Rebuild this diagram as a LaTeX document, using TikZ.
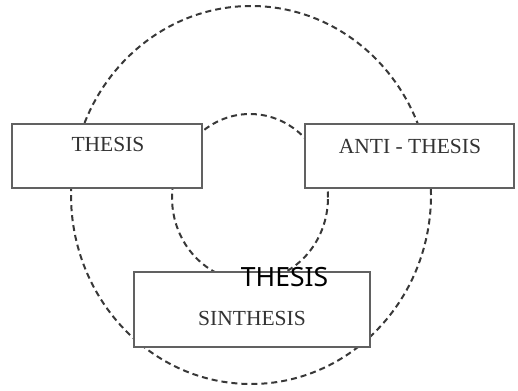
\documentclass[tikz,border=0pt]{standalone}
\usepackage{fontspec}
\setmainfont{Liberation Serif}
\newfontfamily\overlayfont{Noto Sans}
\usetikzlibrary{shapes.geometric}
\tikzset{
  ring/.style={ellipse, draw=black!78, line width=2pt, dash pattern=on 6pt off 4pt, inner sep=0pt},
  stagebox/.style={rectangle, draw=black!62, line width=2pt, fill=white, inner sep=0pt},
  stagetext/.style={anchor=base, text=black!80, font=\fontsize{21.5}{24}\selectfont, inner sep=0pt},
  overtext/.style={anchor=base, text=black, font=\overlayfont\fontsize{26.5}{30}\selectfont, inner sep=0pt}
}
\begin{document}
\begin{tikzpicture}[x=1pt,y=-1pt]
\useasboundingbox (0,0) rectangle (518,390);
\node[ring, minimum width=360pt, minimum height=378pt] (outer) at (251,195) {};
\node[ring, minimum width=156pt, minimum height=167pt] (inner) at (250,197.5) {};
\node[stagebox, minimum width=190pt, minimum height=64pt] (thesisbox) at (107,156) {};
\node[stagebox, minimum width=209pt, minimum height=64pt] (antibox) at (409.5,156) {};
\node[stagebox, minimum width=236pt, minimum height=75pt] (sinbox) at (252,309.5) {};
\node[stagetext] (thesis) at (108,151.5) {THESIS};
\node[stagetext] (anti) at (410,153) {ANTI - THESIS};
\node[stagetext] (sin) at (252,325) {SINTHESIS};
\node[overtext] (over) at (284.5,286) {THESIS};
\end{tikzpicture}
\end{document}
